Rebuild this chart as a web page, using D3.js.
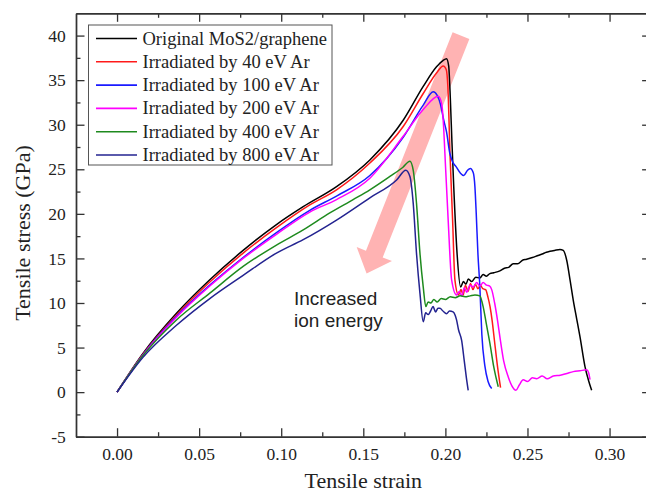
<!DOCTYPE html>
<html>
<head>
<meta charset="utf-8">
<script src="https://cdn.jsdelivr.net/npm/d3@7"></script>
<style>
  html, body { margin: 0; padding: 0; background: #fff; }
  svg { display: block; }
</style>
</head>
<body>
<svg id="chart" width="646" height="494"></svg>
<script>
// Stress–strain curves (strain, stress in GPa)
const originalCurve = [
  [0,0],[0.0158,4.35],[0.0362,8.84],[0.0565,12.6],[0.0768,15.9],[0.0971,18.8],[0.1134,20.8],
  [0.1337,23.05],[0.154,26.05],[0.1743,30.5],[0.1865,34.3],[0.1946,36.5],[0.1985,37.2],[0.2007,37.4],
  [0.2020,36.6],[0.2030,33.0],[0.2040,28.0],[0.2051,23.0],[0.2071,15.6],[0.2093,11.8],[0.2110,12.4],
  [0.2125,12.1],[0.2140,12.7],[0.2160,12.4],[0.2185,12.9],[0.2210,12.8],[0.2230,13.2],[0.2250,13.0],
  [0.2271,13.3],[0.2295,13.4],[0.2332,13.6],[0.2360,13.9],[0.2385,14.0],[0.2413,14.4],[0.2440,14.4],
  [0.2470,14.8],[0.2495,14.9],[0.2530,15.1],[0.2560,15.3],[0.2590,15.5],[0.2615,15.7],[0.2637,15.8],
  [0.2665,15.9],[0.2698,16.0],[0.2718,15.9],[0.2739,14.8],[0.2760,12.5],[0.2779,10.3],[0.2800,8.2],
  [0.2820,6.2],[0.2850,2.9],[0.2872,1.3],[0.2891,0.2]
];
const ar40Curve = [
  [0,0],[0.0158,4.25],[0.0362,8.65],[0.0565,12.35],[0.0768,15.6],[0.0971,18.45],[0.1174,21.0],
  [0.1337,22.7],[0.154,25.7],[0.1743,29.8],[0.1865,33.5],[0.1946,35.8],[0.1987,36.6],[0.2005,36.2],
  [0.2015,34.3],[0.2028,26.8],[0.2044,19.3],[0.2058,12.6],[0.2080,10.9],[0.2095,11.5],[0.2108,10.9],
  [0.2122,12.0],[0.2138,11.3],[0.2153,12.2],[0.2168,11.5],[0.2183,12.1],[0.2198,11.6],[0.2213,12.0],
  [0.2228,11.6],[0.2245,11.5],[0.2260,10.6],[0.2272,9.6],[0.2285,8.0],[0.2300,5.6],[0.2318,2.8],
  [0.2336,0.5]
];
const ar100Curve = [
  [0,0],[0.0158,4.2],[0.0362,8.5],[0.0565,12.0],[0.0768,15.1],[0.0971,17.9],[0.1174,20.4],
  [0.1337,22.0],[0.154,24.3],[0.1743,28.6],[0.1865,32.2],[0.1926,33.7],[0.1950,33.3],[0.1970,32.3],
  [0.1990,30.5],[0.2007,29.2],[0.2027,26.8],[0.2045,25.8],[0.2065,25.3],[0.2090,24.6],[0.2112,24.3],
  [0.2135,24.9],[0.2152,25.1],[0.2170,24.6],[0.2180,23.0],[0.2188,20.0],[0.2198,15.6],[0.2210,11.8],
  [0.2222,6.5],[0.2240,3.0],[0.2260,1.2],[0.2282,0.4]
];
const ar200Curve = [
  [0,0],[0.0158,4.15],[0.0362,8.4],[0.0565,11.9],[0.0768,15.0],[0.0971,17.7],[0.1174,20.2],
  [0.1337,21.6],[0.154,24.0],[0.1743,28.7],[0.1865,31.7],[0.1957,33.2],[0.1977,32.4],[0.1990,29.5],
  [0.1997,26.8],[0.2017,19.3],[0.2038,12.6],[0.2068,10.9],[0.2085,11.3],[0.2100,10.8],[0.2115,11.7],
  [0.2130,11.2],[0.2150,12.0],[0.2169,11.8],[0.2190,12.3],[0.2210,11.9],[0.2230,12.3],[0.2251,12.0],
  [0.2270,11.9],[0.2282,11.5],[0.2300,10.0],[0.2318,8.0],[0.2332,6.2],[0.2355,3.5],[0.2383,1.7],
  [0.2405,0.7],[0.2430,0.2],[0.2450,0.8],[0.2474,1.4],[0.2500,1.2],[0.2530,1.6],[0.2556,1.5],
  [0.2590,1.8],[0.2620,1.5],[0.2657,1.8],[0.2700,1.9],[0.2740,2.1],[0.2779,2.3],[0.2820,2.4],
  [0.2860,2.5],[0.2872,2.2],[0.2881,1.4]
];
const ar400Curve = [
  [0,0],[0.0158,4.1],[0.0362,8.1],[0.0565,11.1],[0.0768,14.1],[0.0971,16.5],[0.1134,18.2],
  [0.1296,20.1],[0.1438,21.6],[0.154,22.7],[0.1662,24.2],[0.1740,25.2],[0.1784,25.9],[0.1804,24.9],
  [0.1824,21.2],[0.1845,15.6],[0.1865,11.8],[0.1881,9.6],[0.1895,10.1],[0.1912,10.0],[0.1930,10.4],
  [0.1950,10.1],[0.1975,10.5],[0.2000,10.4],[0.2030,10.7],[0.2060,10.6],[0.2090,10.8],[0.2120,10.7],
  [0.2150,10.8],[0.2180,10.9],[0.2210,10.8],[0.2222,10.2],[0.2230,9.6],[0.2250,7.6],[0.2271,5.5],
  [0.2295,2.8],[0.2322,0.6]
];
const ar800Curve = [
  [0,0],[0.0158,3.9],[0.0362,7.5],[0.0565,10.5],[0.0768,13.1],[0.0971,15.6],[0.1134,17.1],
  [0.1337,19.3],[0.154,21.8],[0.1703,23.8],[0.1759,24.9],[0.1784,24.2],[0.1804,21.2],[0.1824,15.6],
  [0.1845,11.1],[0.1865,7.9],[0.1880,8.9],[0.1895,8.7],[0.1910,9.1],[0.1925,9.6],[0.1940,9.0],
  [0.1955,9.4],[0.1967,9.4],[0.1985,9.1],[0.2007,8.8],[0.2025,9.1],[0.2047,9.0],[0.2060,8.6],
  [0.2068,8.1],[0.2080,7.0],[0.2099,5.8],[0.2115,3.5],[0.2128,1.6],[0.2139,0.2]
];

const seriesNames = [
  "Original MoS2/graphene",
  "Irradiated by 40 eV Ar",
  "Irradiated by 100 eV Ar",
  "Irradiated by 200 eV Ar",
  "Irradiated by 400 eV Ar",
  "Irradiated by 800 eV Ar"
];
const seriesColors = ["#000000", "#ff1a1a", "#1a1aff", "#ff00ff", "#1e8a1e", "#232390"];
const seriesData = [originalCurve, ar40Curve, ar100Curve, ar200Curve, ar400Curve, ar800Curve];

const xMajorTicks = [0, 0.05, 0.10, 0.15, 0.20, 0.25, 0.30];
const xMinorTicks = [0.025, 0.075, 0.125, 0.175, 0.225, 0.275];
const yMajorTicks = [-5, 0, 5, 10, 15, 20, 25, 30, 35, 40];
const yMinorTicks = [-2.5, 2.5, 7.5, 12.5, 17.5, 22.5, 27.5, 32.5, 37.5];

const xDomain = [-0.025, 0.325];
const yDomain = [-5, 42.5];

// Trend arrow: from (strain, stress) to (strain, stress)
const arrowFrom = [0.2095, 40.0];
const arrowTo = [0.1520, 13.3];

const annotationLines = ["Increased", "ion energy"];

// ---- drawing ----
const svg = d3.select("#chart");
const margin = { left: 76, top: 13.3, right: 650.6, bottom: 436.7 };

const x = d3.scaleLinear().domain(xDomain).range([margin.left, margin.right]);
const y = d3.scaleLinear().domain(yDomain).range([margin.bottom, margin.top]);

const serif = "'Liberation Serif', 'Times New Roman', serif";
const frameColor = "#333";

// Arrow body (drawn beneath the curves)
(function drawArrow() {
  const x0 = x(arrowFrom[0]), y0 = y(arrowFrom[1]);
  const x1 = x(arrowTo[0]), y1 = y(arrowTo[1]);
  const dx = x1 - x0, dy = y1 - y0;
  const len = Math.hypot(dx, dy);
  const ux = dx / len, uy = dy / len;
  const px = -uy, py = ux;
  const shaftHalf = 9, headHalf = 19, headLen = 21;
  const bx = x1 - ux * headLen, by = y1 - uy * headLen;
  const pts = [
    [x0 + px * shaftHalf, y0 + py * shaftHalf],
    [bx + px * shaftHalf, by + py * shaftHalf],
    [bx + px * headHalf, by + py * headHalf],
    [x1, y1],
    [bx - px * headHalf, by - py * headHalf],
    [bx - px * shaftHalf, by - py * shaftHalf],
    [x0 - px * shaftHalf, y0 - py * shaftHalf]
  ];
  svg.append("polygon")
    .attr("points", pts.map(p => p.join(",")).join(" "))
    .attr("fill", "#ffb3b3");
})();

// Curves
const line = d3.line()
  .x(d => x(d[0]))
  .y(d => y(d[1]))
  .curve(d3.curveMonotoneX);

svg.append("g")
  .selectAll("path")
  .data(seriesData)
  .join("path")
  .attr("d", line)
  .attr("fill", "none")
  .attr("stroke", (d, i) => seriesColors[i])
  .attr("stroke-width", 1.5)
  .attr("stroke-linejoin", "round");

// Axes: ticks point inward on all four sides
function styleAxis(g) {
  g.selectAll(".domain").attr("stroke", frameColor).attr("stroke-width", 1.4);
  g.selectAll(".tick line").attr("stroke", frameColor).attr("stroke-width", 1.3);
  g.selectAll("text").attr("fill", "#222").style("font-family", serif).style("font-size", "17.5px");
}

const majorLen = 8.5, minorLen = 4.5;

svg.append("g")
  .attr("transform", `translate(0,${margin.bottom})`)
  .call(d3.axisBottom(x).tickValues(xMajorTicks).tickSize(-majorLen).tickSizeOuter(0)
    .tickPadding(10.5).tickFormat(d => d.toFixed(2)))
  .call(styleAxis);
svg.append("g")
  .attr("transform", `translate(0,${margin.bottom})`)
  .call(d3.axisBottom(x).tickValues(xMinorTicks).tickSize(-minorLen).tickSizeOuter(0).tickFormat(""))
  .call(styleAxis);

svg.append("g")
  .attr("transform", `translate(0,${margin.top})`)
  .call(d3.axisTop(x).tickValues(xMajorTicks).tickSize(-majorLen).tickSizeOuter(0).tickFormat(""))
  .call(styleAxis);
svg.append("g")
  .attr("transform", `translate(0,${margin.top})`)
  .call(d3.axisTop(x).tickValues(xMinorTicks).tickSize(-minorLen).tickSizeOuter(0).tickFormat(""))
  .call(styleAxis);

svg.append("g")
  .attr("transform", `translate(${margin.left},0)`)
  .call(d3.axisLeft(y).tickValues(yMajorTicks).tickSize(-majorLen).tickSizeOuter(0)
    .tickPadding(10.3).tickFormat(d => String(d)))
  .call(styleAxis);
svg.append("g")
  .attr("transform", `translate(${margin.left},0)`)
  .call(d3.axisLeft(y).tickValues(yMinorTicks).tickSize(-minorLen).tickSizeOuter(0).tickFormat(""))
  .call(styleAxis);

svg.append("g")
  .attr("transform", `translate(${margin.right},0)`)
  .call(d3.axisRight(y).tickValues(yMajorTicks).tickSize(-majorLen).tickSizeOuter(0).tickFormat(""))
  .call(styleAxis);
svg.append("g")
  .attr("transform", `translate(${margin.right},0)`)
  .call(d3.axisRight(y).tickValues(yMinorTicks).tickSize(-minorLen).tickSizeOuter(0).tickFormat(""))
  .call(styleAxis);

// Axis titles
svg.append("text")
  .attr("x", (margin.left + margin.right) / 2)
  .attr("y", 488)
  .attr("text-anchor", "middle")
  .attr("fill", "#222")
  .style("font-family", serif)
  .style("font-size", "22px")
  .text("Tensile strain");

svg.append("text")
  .attr("transform", `translate(30,${(margin.top + margin.bottom) / 2 + 8}) rotate(-90)`)
  .attr("text-anchor", "middle")
  .attr("fill", "#222")
  .style("font-family", serif)
  .style("font-size", "22px")
  .text("Tensile stress (GPa)");

// Annotation
svg.append("g")
  .selectAll("text")
  .data(annotationLines)
  .join("text")
  .attr("x", 294)
  .attr("y", (d, i) => 305 + i * 22)
  .attr("fill", "#222")
  .style("font-family", "'Liberation Sans', Arial, sans-serif")
  .style("font-size", "19px")
  .text(d => d);

// Legend
const legend = svg.append("g");
legend.append("rect")
  .attr("x", 88.5).attr("y", 25)
  .attr("width", 243.5).attr("height", 140)
  .attr("fill", "#fff")
  .attr("stroke", "#555")
  .attr("stroke-width", 1);

const rows = legend.selectAll("g.row")
  .data(seriesNames)
  .join("g")
  .attr("class", "row")
  .attr("transform", (d, i) => `translate(0,${38.5 + i * 23.3})`);
rows.append("line")
  .attr("x1", 96).attr("x2", 137)
  .attr("stroke", (d, i) => seriesColors[i])
  .attr("stroke-width", 1.6);
rows.append("text")
  .attr("x", 142.5)
  .attr("y", 6)
  .attr("fill", "#222")
  .style("font-family", serif)
  .style("font-size", "18.5px")
  .text(d => d);
</script>
</body>
</html>
